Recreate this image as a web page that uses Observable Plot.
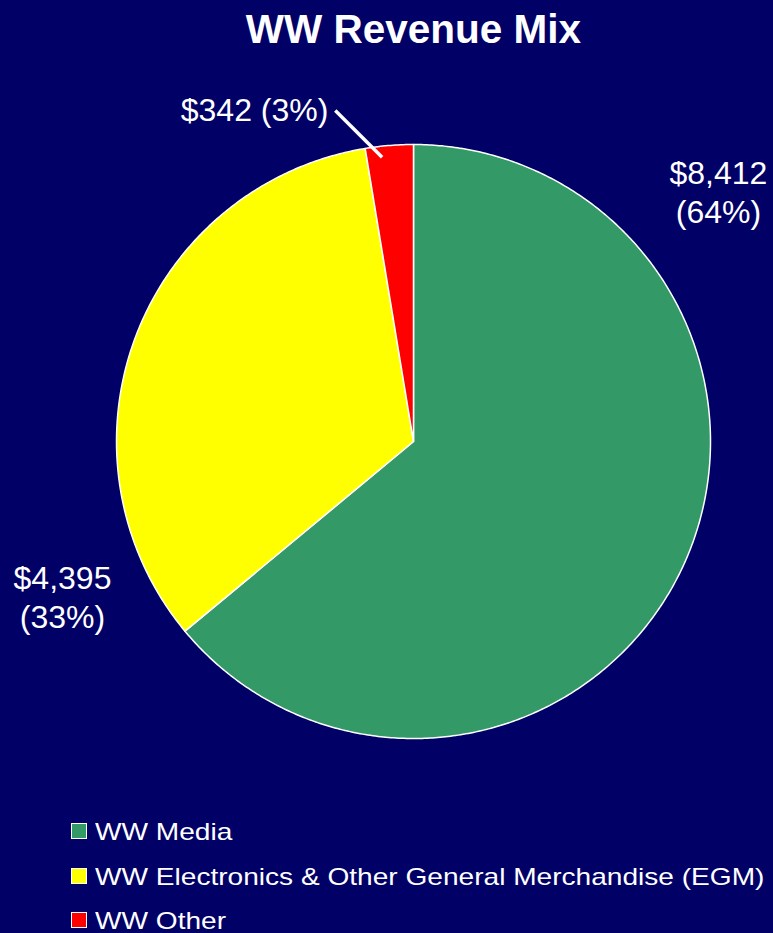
<!DOCTYPE html>
<html>
<head>
<meta charset="utf-8">
<script src="https://cdn.jsdelivr.net/npm/d3@7"></script>
<script src="https://cdn.jsdelivr.net/npm/@observablehq/plot@0.6"></script>
<style>
  html, body { margin: 0; padding: 0; background: #000066; }
  body { width: 773px; height: 933px; position: relative; overflow: hidden;
         font-family: "Liberation Sans", Arial, sans-serif; color: #fff; }
  #title { position: absolute; left: 0; width: 827px; top: 9px; text-align: center;
           font-size: 40.5px; font-weight: bold; line-height: 1; }
  #chart { position: absolute; left: 0; top: 60px; }
  #legend { position: absolute; left: 71px; top: 820px; }
  .row { position: relative; height: 44.5px; font-size: 24px; line-height: 1; white-space: nowrap; }
  .sw { position: absolute; left: 0; top: 3px; width: 16px; height: 16px; box-sizing: border-box; border: 1.5px solid #fff; }
  .lab { position: absolute; left: 24px; top: 0; transform: scaleX(1.17); transform-origin: 0 0; }
</style>
</head>
<body>
<div id="title"></div>
<div id="chart"></div>
<div id="legend"></div>
<script>
// ---- data ----
const chartTitle = "WW Revenue Mix";
const categories = ["WW Media", "WW Electronics & Other General Merchandise (EGM)", "WW Other"];
const revenue = [8412, 4395, 342];
const percentLabels = ["64%", "33%", "3%"];
const colors = ["#339966", "#FFFF00", "#FF0000"];

// ---- layout ----
const W = 773, H = 740, cx = 413, cy = 381, R = 297;
// label anchors (polar: degrees clockwise from 12 o'clock, radius factor)
const labelPolar = [[50.58, 1.329], [246.27, 1.291], [334.5, 1.243]];
const labelLines = [true, true, false];
const leaderPolar = [[353.7, 0.963], [346.7, 1.145]];

document.getElementById("title").textContent = chartTitle;

const total = d3.sum(revenue);
const rad = a => a * Math.PI / 180;
const polar = (a, k) => ({x: k * Math.sin(rad(a)), y: k * Math.cos(rad(a))});

// slice polygons
const pts = [];
let start = 0;
revenue.forEach((v, i) => {
  const end = start + v / total * 360;
  pts.push({cat: categories[i], ...polar(0, 0)});
  const n = Math.max(2, Math.ceil((end - start) / 0.5));
  for (let j = 0; j <= n; j++) {
    const a = start + (end - start) * j / n;
    pts.push({cat: categories[i], ...polar(a, 1)});
  }
  start = end;
});

const fmt = d3.format(",");
const labels = revenue.map((v, i) => ({
  ...polar(labelPolar[i][0], labelPolar[i][1]),
  text: labelLines[i] ? `$${fmt(v)}\n(${percentLabels[i]})` : `$${fmt(v)} (${percentLabels[i]})`
}));

const leader = [{a: polar(...leaderPolar[0]), b: polar(...leaderPolar[1])}];

const plot = Plot.plot({
  width: W, height: H, margin: 0,
  style: {background: "transparent", fontFamily: "'Liberation Sans', Arial, sans-serif", color: "#fff"},
  x: {domain: [-cx / R, (W - cx) / R], range: [0, W], axis: null},
  y: {domain: [-(H - cy) / R, cy / R], range: [H, 0], axis: null},
  color: {domain: categories, range: colors},
  marks: [
    Plot.line(pts, {x: "x", y: "y", z: "cat", fill: "cat", stroke: "#fff", strokeWidth: 1.5, curve: "linear-closed"}),
    Plot.link(leader, {x1: d => d.a.x, y1: d => d.a.y, x2: d => d.b.x, y2: d => d.b.y, stroke: "#fff", strokeWidth: 3.5}),
    Plot.text(labels, {x: "x", y: "y", text: "text", fill: "#fff", fontSize: 32, lineHeight: 1.22, textAnchor: "middle"})
  ]
});
document.getElementById("chart").appendChild(plot);

// legend
const leg = document.getElementById("legend");
categories.forEach((c, i) => {
  const row = document.createElement("div");
  row.className = "row";
  const sw = document.createElement("div");
  sw.className = "sw";
  sw.style.background = colors[i];
  const lab = document.createElement("div");
  lab.className = "lab";
  lab.textContent = c;
  row.appendChild(sw);
  row.appendChild(lab);
  leg.appendChild(row);
});
</script>
</body>
</html>
